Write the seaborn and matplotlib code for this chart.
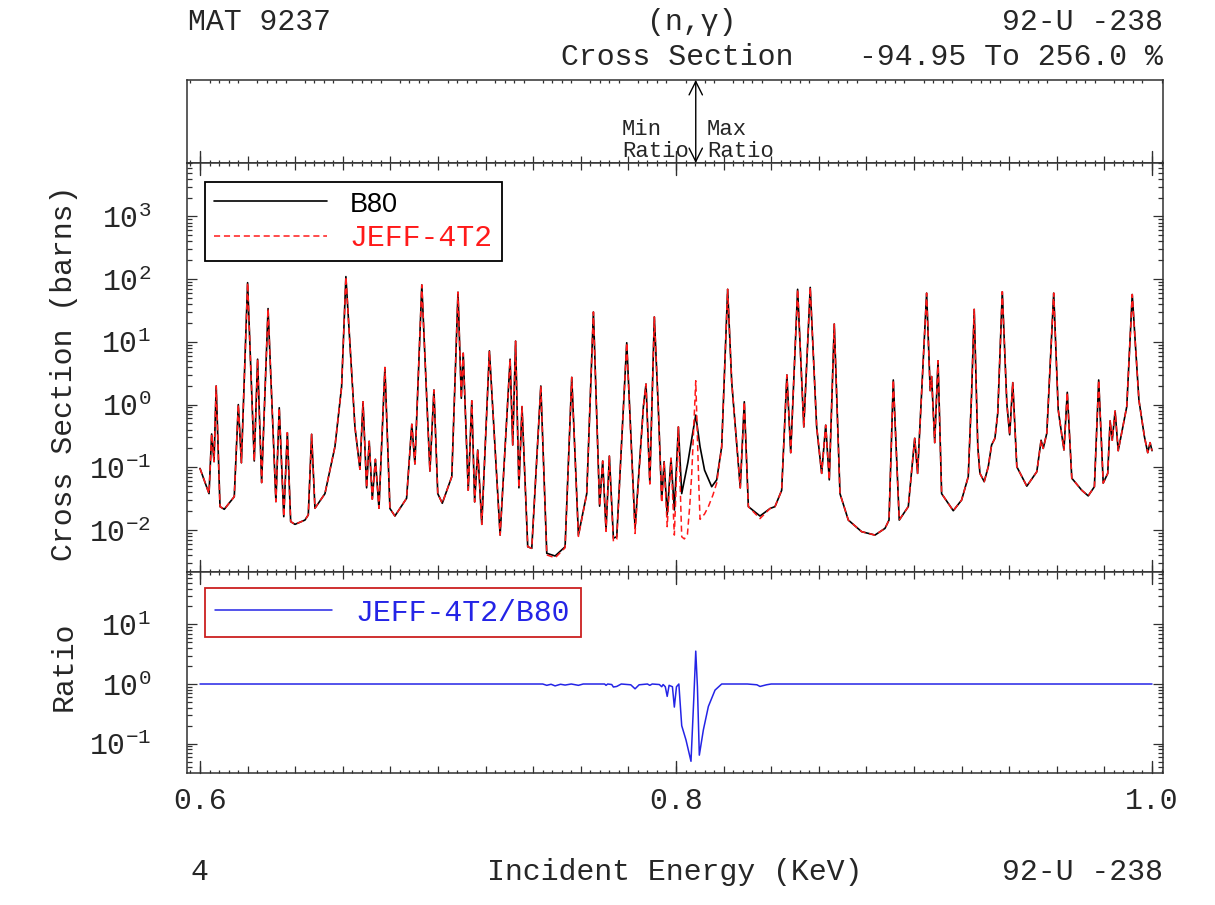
import numpy as np
import pandas as pd
import matplotlib
matplotlib.use("Agg")
import matplotlib.pyplot as plt
import matplotlib.ticker as mticker
import seaborn as sns

# ---------------- data ----------------
b80_energy = [
    0.6000, 0.6038, 0.6049, 0.6059, 0.6068, 0.6084, 0.6102, 0.6144, 0.6161, 0.6174,
    0.6200, 0.6228, 0.6242, 0.6259, 0.6286, 0.6319, 0.6333, 0.6352, 0.6367, 0.6381,
    0.6399, 0.6441, 0.6455, 0.6469, 0.6483, 0.6525, 0.6567, 0.6595, 0.6613, 0.6630,
    0.6651, 0.6672, 0.6685, 0.6700, 0.6711, 0.6724, 0.6737, 0.6752, 0.6777, 0.6798,
    0.6819, 0.6868, 0.6890, 0.6903, 0.6932, 0.6966, 0.6983, 0.6999, 0.7018, 0.7058,
    0.7084, 0.7098, 0.7106, 0.7127, 0.7142, 0.7154, 0.7167, 0.7184, 0.7216, 0.7261,
    0.7303, 0.7314, 0.7326, 0.7340, 0.7353, 0.7377, 0.7394, 0.7432, 0.7457, 0.7492,
    0.7534, 0.7562, 0.7590, 0.7625, 0.7653, 0.7679, 0.7692, 0.7706, 0.7720, 0.7737,
    0.7751, 0.7793, 0.7828, 0.7863, 0.7874, 0.7890, 0.7909, 0.7926, 0.7940, 0.7950,
    0.7963, 0.7979, 0.7993, 0.8010, 0.8024, 0.8050, 0.8070, 0.8083, 0.8101, 0.8120,
    0.8150, 0.8171, 0.8192, 0.8217, 0.8234, 0.8270, 0.8287, 0.8304, 0.8353, 0.8395,
    0.8416, 0.8444, 0.8466, 0.8482, 0.8511, 0.8537, 0.8564, 0.8591, 0.8612, 0.8629,
    0.8644, 0.8665, 0.8689, 0.8724, 0.8780, 0.8836, 0.8878, 0.8895, 0.8913, 0.8938,
    0.8976, 0.9003, 0.9015, 0.9053, 0.9068, 0.9074, 0.9087, 0.9101, 0.9116, 0.9165,
    0.9200, 0.9228, 0.9242, 0.9253, 0.9268, 0.9277, 0.9295, 0.9312, 0.9326, 0.9340,
    0.9352, 0.9371, 0.9390, 0.9402, 0.9415, 0.9432, 0.9474, 0.9516, 0.9534, 0.9543,
    0.9558, 0.9587, 0.9606, 0.9630, 0.9644, 0.9663, 0.9705, 0.9732, 0.9758, 0.9776,
    0.9795, 0.9814, 0.9824, 0.9833, 0.9845, 0.9858, 0.9894, 0.9917, 0.9945, 0.9968,
    0.9982, 0.9992, 1.0000,
]
b80_xs = [
    0.096, 0.038, 0.34, 0.123, 1.98, 0.0236, 0.0214, 0.034, 1.0, 0.118,
    88, 0.126, 5.3, 0.057, 34, 0.0283, 0.89, 0.0163, 0.356, 0.0136,
    0.0123, 0.0144, 0.0174, 0.336, 0.0222, 0.038, 0.213, 1.93, 110, 9.5,
    0.44, 0.093, 1.11, 0.047, 0.26, 0.031, 0.134, 0.0222, 3.9, 0.022,
    0.0167, 0.032, 0.485, 0.113, 81, 0.087, 1.71, 0.038, 0.0267, 0.071,
    62, 1.26, 6.6, 0.043, 1.15, 0.028, 0.189, 0.0123, 7.2, 0.0083,
    5.3, 0.227, 10.3, 0.047, 0.93, 0.0054, 0.0051, 1.98, 0.00425, 0.00385,
    0.0054, 2.72, 0.0083, 0.038, 30, 0.024, 0.126, 0.010, 0.151, 0.0074,
    0.0078, 9.7, 0.0106, 0.93, 2.13, 0.057, 25, 0.82, 0.030, 0.123,
    0.0174, 0.139, 0.0208, 0.44, 0.038, 0.12, 0.35, 0.68, 0.213, 0.09,
    0.049, 0.063, 0.213, 69, 2.3, 0.047, 1.11, 0.0236, 0.0167, 0.022,
    0.0236, 0.043, 2.97, 0.171, 69, 0.44, 74, 0.44, 0.08, 0.47,
    0.063, 19.3, 0.038, 0.0144, 0.0094, 0.0083, 0.0106, 0.0144, 2.47, 0.0144,
    0.0236, 0.29, 0.08, 60, 1.67, 2.8, 0.247, 5.0, 0.038, 0.0203,
    0.030, 0.071, 1.5, 33, 0.213, 0.08, 0.059, 0.102, 0.227, 0.29,
    0.74, 63, 1.05, 0.33, 2.24, 0.102, 0.050, 0.085, 0.27, 0.20,
    0.35, 60, 0.82, 0.189, 1.57, 0.067, 0.043, 0.035, 0.049, 2.47,
    0.056, 0.08, 0.55, 0.27, 0.79, 0.184, 0.93, 57, 1.18, 0.31,
    0.171, 0.247, 0.184,
]

# JEFF-4T2 coincides with B80 except inside this energy window
jeff_window_energy = [
    0.7457, 0.7492, 0.7534, 0.7562, 0.7590, 0.7625, 0.7653, 0.7679, 0.7692, 0.7706,
    0.7720, 0.7737, 0.7751, 0.7793, 0.7828, 0.7863, 0.7874, 0.7890, 0.7909, 0.7926,
    0.7940, 0.7950, 0.7963, 0.7979, 0.7993, 0.8010, 0.8024, 0.8035, 0.8048, 0.8058,
    0.8066, 0.8075, 0.8083, 0.8090, 0.8096, 0.8101, 0.8120, 0.8136, 0.8155, 0.8171,
    0.8192, 0.8217, 0.8234, 0.8270, 0.8287, 0.8304, 0.8353, 0.8395,
]
jeff_window_xs = [
    0.0040, 0.0036, 0.0052, 2.72, 0.0079, 0.038, 30, 0.024, 0.126, 0.0095,
    0.151, 0.0066, 0.0071, 9.7, 0.0088, 0.93, 2.13, 0.054, 25, 0.82,
    0.027, 0.123, 0.0113, 0.139, 0.0083, 0.44, 0.0078, 0.0072, 0.0085, 0.025,
    0.077, 0.5, 2.4, 0.3, 0.05, 0.0148, 0.018, 0.0236, 0.036, 0.056,
    0.213, 69, 2.3, 0.047, 1.11, 0.0236, 0.0152, 0.022,
]

ratio_energy = [
    0.6000, 0.7440, 0.7457, 0.7475, 0.7492, 0.7515, 0.7534, 0.7560, 0.7590, 0.7610,
    0.7700, 0.7706, 0.7713, 0.7730, 0.7737, 0.7751, 0.7770, 0.7810, 0.7828, 0.7845,
    0.7880, 0.7890, 0.7900, 0.7930, 0.7940, 0.7946, 0.7955, 0.7963, 0.7971, 0.7985,
    0.7993, 0.8002, 0.8012, 0.8024, 0.8042, 0.8063, 0.8075, 0.8083, 0.8090, 0.8098,
    0.8115, 0.8136, 0.8164, 0.8192, 0.8300, 0.8340, 0.8353, 0.8380, 0.8400, 1.0000,
]
ratio_values = [
    1.0, 1.0, 0.95, 0.99, 0.93, 0.99, 0.96, 1.0, 0.95, 1.0,
    1.0, 0.95, 1.0, 0.98, 0.89, 0.91, 1.0, 0.97, 0.83, 0.97,
    1.0, 0.95, 1.0, 0.98, 0.90, 0.98, 0.90, 0.62, 0.95, 0.90,
    0.41, 0.90, 1.0, 0.20, 0.115, 0.0505, 0.6, 3.56, 0.9, 0.064,
    0.17, 0.42, 0.79, 1.0, 1.0, 0.97, 0.91, 0.97, 1.0, 1.0,
]

x_tick_values = [0.6, 0.8, 1.0]
x_tick_labels = ["0.6", "0.8", "1.0"]
series_labels = ["B80", "JEFF-4T2", "JEFF-4T2/B80"]

# ---------------- assemble ----------------
b80 = pd.DataFrame({"E": b80_energy, "xs": b80_xs})
win = pd.DataFrame({"E": jeff_window_energy, "xs": jeff_window_xs})
outside = (b80.E < win.E.min()) | (b80.E > win.E.max())
jeff = pd.concat([b80[outside], win]).sort_values("E").reset_index(drop=True)
ratio = pd.DataFrame({"E": ratio_energy, "r": ratio_values})

# ---------------- style ----------------
sns.set_style("ticks")
plt.rcParams["font.family"] = ["Liberation Mono", "DejaVu Sans Mono", "DejaVu Sans"]
plt.rcParams["mathtext.fontset"] = "custom"
plt.rcParams["mathtext.rm"] = "Liberation Mono"
plt.rcParams["mathtext.it"] = "Liberation Mono:italic"
plt.rcParams["mathtext.default"] = "regular"
plt.rcParams["axes.unicode_minus"] = False

FS = 21.5
SPINE = "#303030"
RED = "#ff1a1a"
BLUE = "#2424e6"

fig = plt.figure(figsize=(12.15, 9.05), dpi=100)
FW, FH = 1215.0, 905.0
LEFT, RIGHT = 187, 1163


def box(top, bottom):
    return [LEFT / FW, 1 - bottom / FH, (RIGHT - LEFT) / FW, (bottom - top) / FH]


ax_top = fig.add_axes(box(80, 163))
ax = fig.add_axes(box(163, 572))
axr = fig.add_axes(box(572, 773))

XLIM = (0.59454, 1.00462)

# main cross-section panel
sns.lineplot(data=b80, x="E", y="xs", ax=ax, color="black", lw=1.2,
             label=series_labels[0], estimator=None, sort=False)
sns.lineplot(data=jeff, x="E", y="xs", ax=ax, color=RED, lw=1.1,
             linestyle=(0, (4, 2.5)), label=series_labels[1], estimator=None, sort=False)
ax.set_yscale("log")
ax.set_ylim(10 ** -2.67, 10 ** 3.853)

# ratio panel
sns.lineplot(data=ratio, x="E", y="r", ax=axr, color=BLUE, lw=1.1,
             label=series_labels[2], estimator=None, sort=False)
axr.set_yscale("log")
axr.set_ylim(10 ** -1.493, 10 ** 1.879)

for a in (ax_top, ax, axr):
    a.set_xlim(*XLIM)
    for s in a.spines.values():
        s.set_color(SPINE)
        s.set_linewidth(1.1)
    a.xaxis.set_major_locator(mticker.MultipleLocator(0.02))
    a.xaxis.set_minor_locator(mticker.MultipleLocator(0.004))
    a.tick_params(axis="x", which="both", direction="in", top=True, bottom=True,
                  color=SPINE, width=0.9)
    a.tick_params(axis="x", which="major", length=5)
    a.tick_params(axis="x", which="minor", length=2.5)
    a.set_xlabel("")
    a.set_ylabel("")

for a in (ax, axr):
    a.yaxis.set_major_locator(mticker.LogLocator(base=10, numticks=20))
    a.yaxis.set_minor_locator(mticker.LogLocator(base=10, subs=np.arange(2, 10), numticks=20))
    a.yaxis.set_major_formatter(mticker.LogFormatterMathtext())
    a.yaxis.set_minor_formatter(mticker.NullFormatter())
    a.tick_params(axis="y", which="both", direction="in", left=True, right=True,
                  color=SPINE, width=0.9, labelsize=FS, pad=26)
    a.tick_params(axis="y", which="major", length=7)
    a.tick_params(axis="y", which="minor", length=3.5)

ax_top.set_yticks([])
ax_top.tick_params(axis="x", top=False, labelbottom=False)
ax.tick_params(axis="x", labelbottom=False)


def xfmt(v, pos):
    for t, lab in zip(x_tick_values, x_tick_labels):
        if abs(v - t) < 1e-6:
            return lab
    return ""


axr.xaxis.set_major_formatter(mticker.FuncFormatter(xfmt))
axr.tick_params(axis="x", labelsize=FS, pad=10)


# long ticks at labelled energies
def long_ticks(a, height_px, top=True, bottom=True):
    h = 12.0 / height_px
    tr = a.get_xaxis_transform()
    for v in x_tick_values:
        if bottom:
            a.plot([v, v], [0, h], transform=tr, color=SPINE, lw=1.0, clip_on=False)
        if top:
            a.plot([v, v], [1 - h, 1], transform=tr, color=SPINE, lw=1.0, clip_on=False)


long_ticks(ax_top, 83, top=False)
long_ticks(ax, 409)
long_ticks(axr, 201)

# axis labels
ax.set_ylabel("Cross Section (barns)", fontsize=FS)
ax.yaxis.set_label_coords(-0.112, 0.487)
axr.set_ylabel("Ratio", fontsize=FS)
axr.yaxis.set_label_coords(-0.112, 0.53)

# legends
leg = ax.legend(loc="upper left", bbox_to_anchor=(0.0184, 0.9535), frameon=True,
                fancybox=False, edgecolor="black", framealpha=1, fontsize=FS,
                handlelength=3.8, handletextpad=0.75, borderpad=0.3,
                labelspacing=0.22, borderaxespad=0)
leg.get_frame().set_linewidth(1.3)
for txt, col in zip(leg.get_texts(), ["black", RED]):
    txt.set_color(col)
leg.get_texts()[0].set_fontfamily(["Liberation Sans", "DejaVu Sans"])
leg.get_texts()[0].set_fontsize(19.5)

legr = axr.legend(loc="upper left", bbox_to_anchor=(0.0184, 0.920), frameon=True,
                  fancybox=False, edgecolor="#cc2020", framealpha=1, fontsize=FS,
                  handlelength=3.9, handletextpad=0.8, borderpad=0.35,
                  borderaxespad=0)
legr.get_frame().set_linewidth(1.3)
legr.get_texts()[0].set_color(BLUE)

# min / max ratio marker in the top panel
e_max = ratio.E[ratio.r.idxmax()]
ax_top.set_ylim(0, 1)
ax_top.annotate("", xy=(e_max, 1), xytext=(e_max, 0),
                xycoords=("data", "axes fraction"), textcoords=("data", "axes fraction"),
                arrowprops=dict(arrowstyle="<->", color="black", lw=1.0,
                                shrinkA=0, shrinkB=0, mutation_scale=24))
ax_top.annotate("Min\nRatio", xy=(e_max, 0), xycoords=("data", "axes fraction"),
                xytext=(-5, 1), textcoords="offset points", ha="right", va="bottom",
                fontsize=16, linespacing=1.05, multialignment="left")
ax_top.annotate("Max\nRatio", xy=(e_max, 0), xycoords=("data", "axes fraction"),
                xytext=(8, 1), textcoords="offset points", ha="left", va="bottom",
                fontsize=16, linespacing=1.05, multialignment="left")

# header / footer texts
rmin = (ratio.r.min() - 1) * 100
rmax = (ratio.r.max() - 1) * 100
fig.text(188 / FW, 1 - 22 / FH, "MAT 9237", ha="left", va="center", fontsize=FS)
fig.text(692 / FW, 1 - 22 / FH, "(n,γ)", ha="center", va="center", fontsize=FS)
fig.text(1163 / FW, 1 - 22 / FH, "92-U -238", ha="right", va="center", fontsize=FS)
fig.text(677 / FW, 1 - 57 / FH, "Cross Section", ha="center", va="center", fontsize=FS)
fig.text(1163 / FW, 1 - 57 / FH, f"{rmin:.2f} To {rmax:.1f} %", ha="right",
         va="center", fontsize=FS)
fig.text(190 / FW, 1 - 872 / FH, "4", ha="left", va="center", fontsize=FS)
fig.text(675 / FW, 1 - 872 / FH, "Incident Energy (KeV)", ha="center", va="center",
         fontsize=FS)
fig.text(1163 / FW, 1 - 872 / FH, "92-U -238", ha="right", va="center", fontsize=FS)

fig.savefig("out.png", dpi=100, facecolor="white")
